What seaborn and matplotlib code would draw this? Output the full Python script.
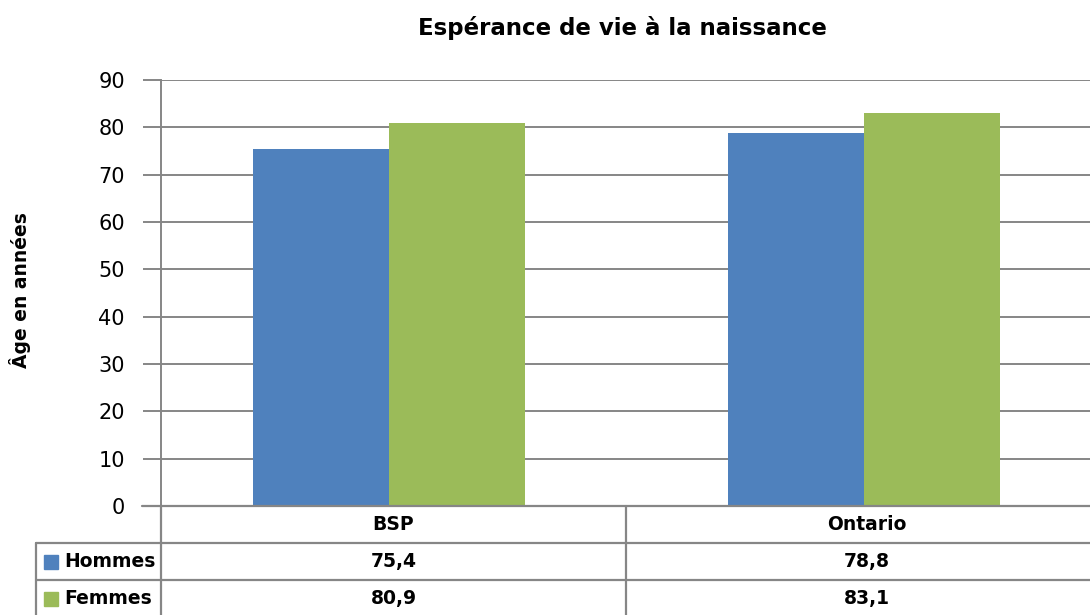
import pandas as pd
import seaborn as sns
import matplotlib.pyplot as plt
from matplotlib.patches import Rectangle

# données
regions = ["BSP", "Ontario"]
hommes = [75.4, 78.8]
femmes = [80.9, 83.1]
series = ["Hommes", "Femmes"]
couleurs = ["#4F81BD", "#9BBB59"]
yticks = [0, 10, 20, 30, 40, 50, 60, 70, 80, 90]

titre = "Espérance de vie à la naissance"
ylabel = "Âge en années"

W, H = 1090, 615
grid_col = "#868686"


def fmt(v):
    return f"{v:.1f}".replace(".", ",")


def draw_chart():
    sns.set_style("white")
    plt.rcParams["font.family"] = ["DejaVu Sans"]
    plt.rcParams["text.color"] = "black"

    df = pd.DataFrame({
        "region": regions * 2,
        "valeur": hommes + femmes,
        "sexe": [series[0]] * len(regions) + [series[1]] * len(regions),
    })

    fig = plt.figure(figsize=(W / 100, H / 100), dpi=100)
    # zone du graphique en pixels
    left, right, top, bottom = 161, 1090, 80, 506
    ax = fig.add_axes([left / W, (H - bottom) / H, (right - left) / W, (bottom - top) / H])

    sns.barplot(data=df, x="region", y="valeur", hue="sexe", palette=couleurs,
                width=0.573, saturation=1, ax=ax, legend=False, zorder=3)
    ax.set_ylim(0, 90)
    ax.set_xlim(-0.48, 1.476)
    ax.set_yticks(yticks)
    ax.set_yticklabels([str(t) for t in yticks], fontsize=15, color="black")
    ax.set_xticks([])
    ax.set_xlabel("")
    ax.set_ylabel("")
    ax.grid(axis="y", color=grid_col, linewidth=1.4, zorder=0)
    for s in ["top", "right", "bottom"]:
        ax.spines[s].set_visible(False)
    ax.spines["left"].set_color(grid_col)
    ax.spines["left"].set_linewidth(1.4)
    ax.tick_params(axis="y", length=13, width=1.4, color=grid_col, pad=13, left=True)
    for p in ax.patches:
        p.set_edgecolor("none")

    # calque pour le tableau de données
    ov = fig.add_axes([0, 0, 1, 1])
    ov.set_xlim(0, W)
    ov.set_ylim(H, 0)
    ov.axis("off")
    ov.patch.set_alpha(0)

    lw = 1.6
    ov.plot([142, W], [bottom, bottom], color=grid_col, lw=lw)
    rows = [bottom, 543, 580, 617]
    for y in rows[1:3]:
        ov.plot([36, W], [y, y], color=grid_col, lw=lw)
    ov.plot([36, 36], [543, H], color=grid_col, lw=lw)
    # colonnes du tableau (la dernière dépasse légèrement le bord de l'image)
    cols = [left, 626, 1108]
    for x in cols[:-1]:
        ov.plot([x, x], [bottom, H], color=grid_col, lw=lw)

    font_b = dict(fontsize=13.5, fontweight="bold", color="black", va="center", ha="center")
    for i, r in enumerate(regions):
        cx = (cols[i] + cols[i + 1]) / 2
        ov.text(cx, (rows[0] + rows[1]) / 2, r, **font_b)
        ov.text(cx, (rows[1] + rows[2]) / 2, fmt(hommes[i]), **font_b)
        ov.text(cx, (rows[2] + rows[3]) / 2, fmt(femmes[i]), **font_b)

    for j, (nom, c) in enumerate(zip(series, couleurs)):
        cy = (rows[j + 1] + rows[j + 2]) / 2
        ov.add_patch(Rectangle((44, cy - 7), 14, 14, color=c))
        ov.text(64, cy, nom, fontsize=13.5, fontweight="bold", color="black", va="center", ha="left")

    ov.text(622, 28, titre, fontsize=16.5, fontweight="bold", color="black", ha="center", va="center")
    ov.text(20, 290, ylabel, fontsize=13.5, fontweight="bold", color="black",
            rotation=90, ha="center", va="center")

    fig.savefig("out.png", dpi=100)


if __name__ == "__main__":
    draw_chart()
